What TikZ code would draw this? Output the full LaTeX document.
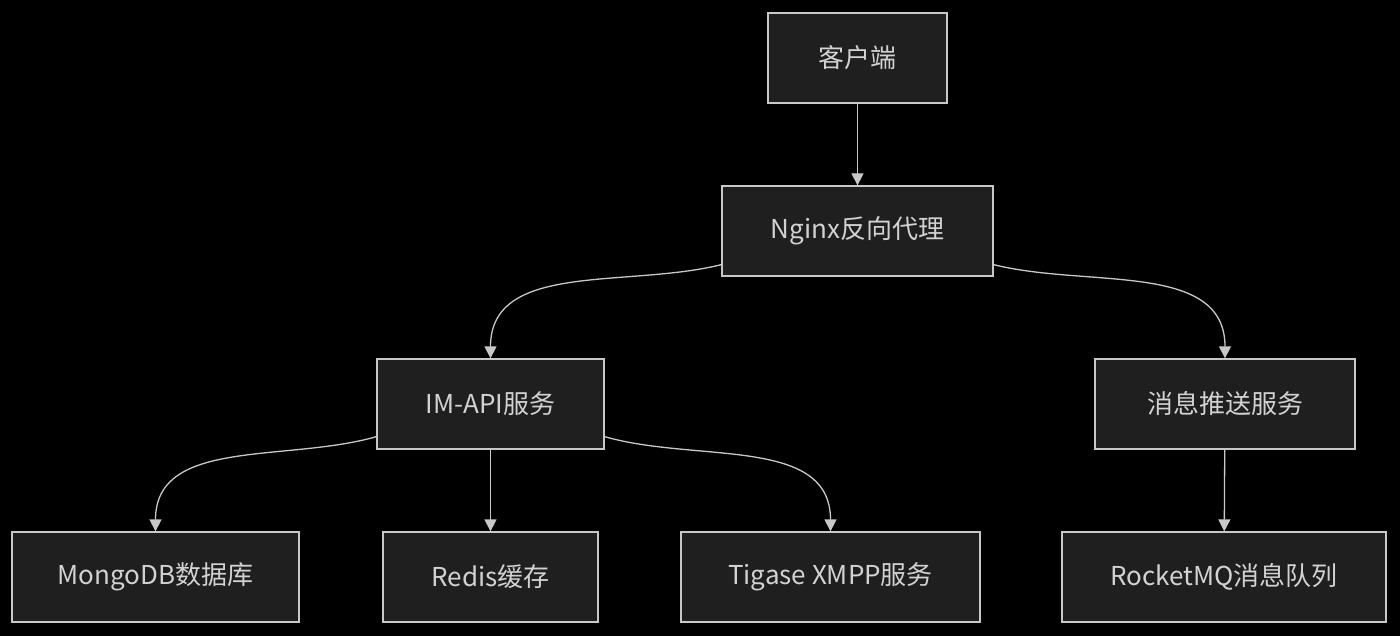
\documentclass[tikz,border=0pt]{standalone}
\usepackage{fontspec}
\setmainfont{Noto Sans CJK SC}
\usepackage{tikz}
\usetikzlibrary{arrows.meta, positioning}
\definecolor{boxfill}{RGB}{31,31,31}
\definecolor{boxline}{RGB}{200,200,200}
\definecolor{textgray}{RGB}{210,210,210}

\begin{document}
\begin{tikzpicture}[x=1pt, y=-1pt,
		box/.style={draw=boxline, fill=boxfill, line width=1.3pt, text=textgray,
			minimum height=90pt, inner sep=0pt, font=\fontsize{26}{30}\selectfont},
		link/.style={draw=boxline, line width=1.3pt, -{Triangle[width=12pt,length=12pt]}}]
		\fill [black] (0,0) rectangle (1400,636);
		\useasboundingbox (0,0) rectangle (1400,636);
		
		\node [box, minimum width=179pt] (client) at (857.5,58) {客户端};
		\node [box, minimum width=271pt] (nginx) at (857.5,231) {Nginx反向代理};
		\node [box, minimum width=227pt] (imapi) at (490.5,404) {IM-API服务};
		\node [box, minimum width=260pt] (push) at (1225,404) {消息推送服务};
		\node [box, minimum width=287pt] (mongo) at (155.5,577) {MongoDB数据库};
		\node [box, minimum width=215pt] (redis) at (490.5,577) {Redis缓存};
		\node [box, minimum width=299pt] (tigase) at (830.5,577) {Tigase XMPP服务};
		\node [box, minimum width=324pt] (rocket) at (1224,577) {RocketMQ消息队列};
		
		\draw [link] (client) -- (nginx);
		\draw [link] ([yshift=12pt]nginx.south west) to[out=194, in=90] (imapi.north);
		\draw [link] ([yshift=12pt]nginx.south east) to[out=-14, in=90] (push.north);
		\draw [link] ([yshift=13pt]imapi.south west) to[out=196, in=90] (mongo.north);
		\draw [link] (imapi) -- (redis);
		\draw [link] ([yshift=13pt]imapi.south east) to[out=-16, in=90] (tigase.north);
		\draw [link] (push) -- (rocket);
		
	\end{tikzpicture}
\end{document}
